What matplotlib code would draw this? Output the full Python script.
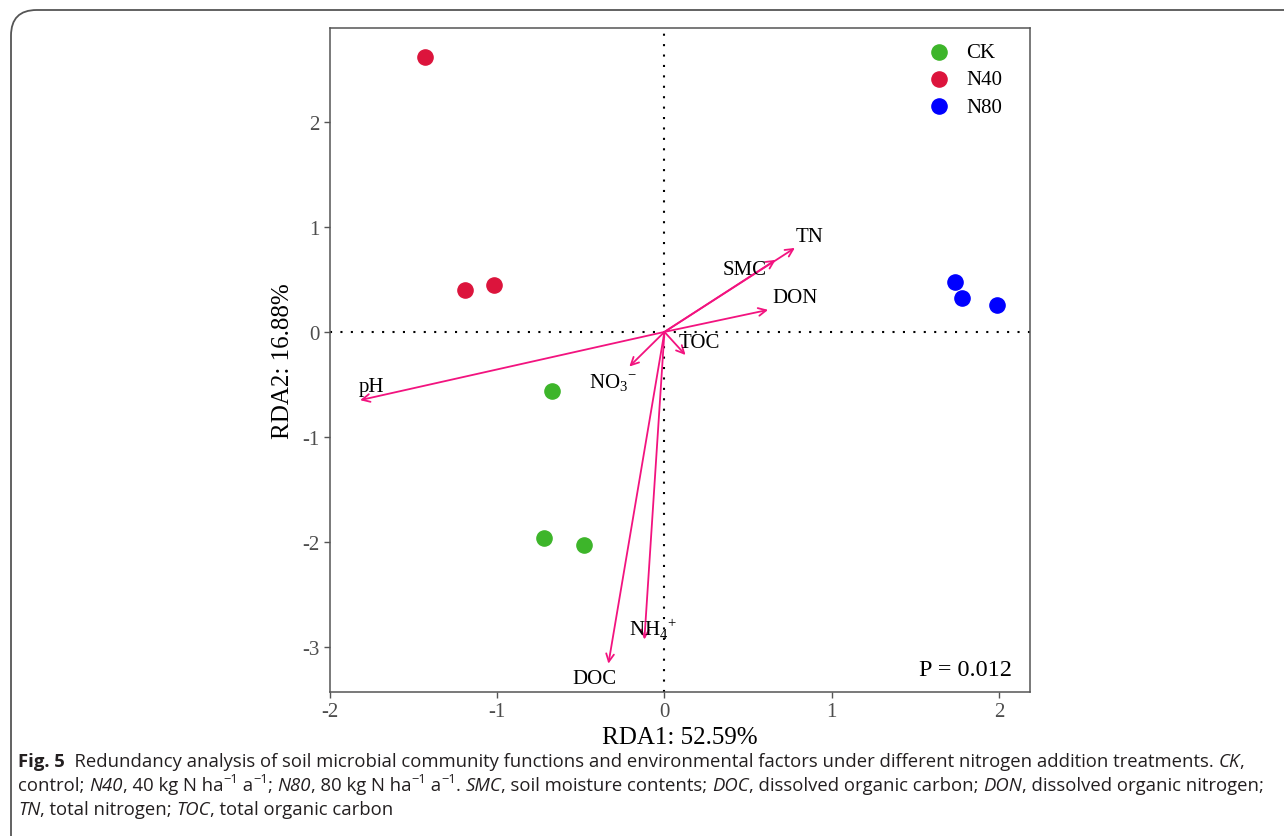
import matplotlib
matplotlib.use('Agg')
import matplotlib.pyplot as plt
from matplotlib.patches import FancyBboxPatch

# sample scores (RDA1, RDA2) per treatment
ck_x = [-0.67, -0.72, -0.48]
ck_y = [-0.56, -1.96, -2.03]
n40_x = [-1.43, -1.19, -1.02]
n40_y = [2.62, 0.40, 0.45]
n80_x = [1.74, 1.78, 1.99]
n80_y = [0.48, 0.32, 0.26]

# environmental factor arrows
env_names = ['TN', 'SMC', 'DON', 'TOC', 'NO$_3$$^{-}$', 'pH', 'NH$_4$$^{+}$', 'DOC']
env_x = [0.78, 0.665, 0.62, 0.126, -0.21, -1.82, -0.12, -0.335]
env_y = [0.80, 0.686, 0.21, -0.22, -0.33, -0.65, -2.93, -3.16]
# label positions next to arrow tips
lab_x = [0.87, 0.48, 0.78, 0.21, -0.31, -1.75, -0.07, -0.42]
lab_y = [0.91, 0.59, 0.33, -0.10, -0.48, -0.52, -2.82, -3.30]

plt.rcParams['font.family'] = ['Liberation Serif', 'DejaVu Serif']
plt.rcParams['mathtext.fontset'] = 'custom'
plt.rcParams['mathtext.rm'] = 'Liberation Serif'

fig = plt.figure(figsize=(12.84, 8.37), dpi=100)

# rounded frame around the figure
frame = FancyBboxPatch((11 / 1284, -0.5), 1.2, 1 - 11 / 837 + 0.5, transform=fig.transFigure,
                       boxstyle='round,pad=0,rounding_size=0.02', fill=False,
                       edgecolor='#555555', lw=1.3, mutation_aspect=1284 / 837)
fig.patches.append(frame)

ax = fig.add_axes([330 / 1284, 1 - 693 / 837, 700 / 1284, 664 / 837])
ax.set_xlim(-2.0, 2.186)
ax.set_ylim(-3.43, 2.895)

ax.axhline(0, color='black', lw=1.5, ls=(0, (1, 4)), zorder=1)
ax.axvline(0, color='black', lw=1.5, ls=(0, (1, 4)), zorder=1)

ax.scatter(ck_x, ck_y, s=120, color='#3db52a', label='CK', zorder=3)
ax.scatter(n40_x, n40_y, s=120, color='#dc143c', label='N40', zorder=3)
ax.scatter(n80_x, n80_y, s=120, color='#0000ff', label='N80', zorder=3)

for i in range(len(env_names)):
    ax.annotate('', xy=(env_x[i], env_y[i]), xytext=(0, 0),
                arrowprops=dict(arrowstyle='->', color='#f2137f', lw=1.3,
                                mutation_scale=14, shrinkA=0, shrinkB=0), zorder=2)
    ax.text(lab_x[i], lab_y[i], env_names[i], fontsize=15, ha='center', va='center')

ax.text(2.08, -3.22, 'P = 0.012', fontsize=17.5, ha='right', va='center')

ax.legend(loc='upper left', bbox_to_anchor=(0.814, 1.006), frameon=False, fontsize=15,
          handletextpad=0.3, labelspacing=0.36, borderpad=0.4)

ax.set_xticks([-2, -1, 0, 1, 2])
ax.set_xticklabels(['-2', '-1', '0', '1', '2'])
ax.set_yticks([-3, -2, -1, 0, 1, 2])
ax.set_yticklabels(['-3', '-2', '-1', '0', '1', '2'])
ax.tick_params(direction='out', length=4, width=1, colors='#555555', labelcolor='#4d4d4d',
               labelsize=15)
for sp in ax.spines.values():
    sp.set_color('#555555')
    sp.set_linewidth(1.1)

ax.set_xlabel('RDA1: 52.59%', fontsize=18, labelpad=3)
ax.set_ylabel('RDA2: 16.88%', fontsize=18, labelpad=6)

# caption with mixed styles
caption = [
    [('Fig. 5', 'bold', 0), ('  Redundancy analysis of soil microbial community functions and environmental factors under different nitrogen addition treatments. ', 'normal', 0),
     ('CK', 'italic', 0), (',', 'normal', 0)],
    [('control; ', 'normal', 0), ('N40', 'italic', 0), (', 40 kg N ha', 'normal', 0), ('\u22121', 'normal', 1),
     (' a', 'normal', 0), ('\u22121', 'normal', 1), ('; ', 'normal', 0), ('N80', 'italic', 0),
     (', 80 kg N ha', 'normal', 0), ('\u22121', 'normal', 1), (' a', 'normal', 0), ('\u22121', 'normal', 1),
     ('. ', 'normal', 0), ('SMC', 'italic', 0), (', soil moisture contents; ', 'normal', 0),
     ('DOC', 'italic', 0), (', dissolved organic carbon; ', 'normal', 0), ('DON', 'italic', 0),
     (', dissolved organic nitrogen;', 'normal', 0)],
    [('TN', 'italic', 0), (', total nitrogen; ', 'normal', 0), ('TOC', 'italic', 0),
     (', total organic carbon', 'normal', 0)],
]
renderer = fig.canvas.get_renderer()
line_y = [762, 786, 810]
cap_size = 13.3
for row, pieces in zip(line_y, caption):
    xpix = 18
    for txt, style, sup in pieces:
        weight = 'bold' if style == 'bold' else 'normal'
        fstyle = 'italic' if style == 'italic' else 'normal'
        size = cap_size * 0.7 if sup else cap_size
        ypix = row - (6 if sup else 0)
        t = fig.text(xpix / 1284, 1 - ypix / 837, txt, fontsize=size, family=['Open Sans', 'DejaVu Sans'],
                     fontweight=weight, fontstyle=fstyle, color='#231f20', va='center', ha='left')
        bb = t.get_window_extent(renderer)
        xpix += bb.width

fig.savefig('out.png', dpi=100)
